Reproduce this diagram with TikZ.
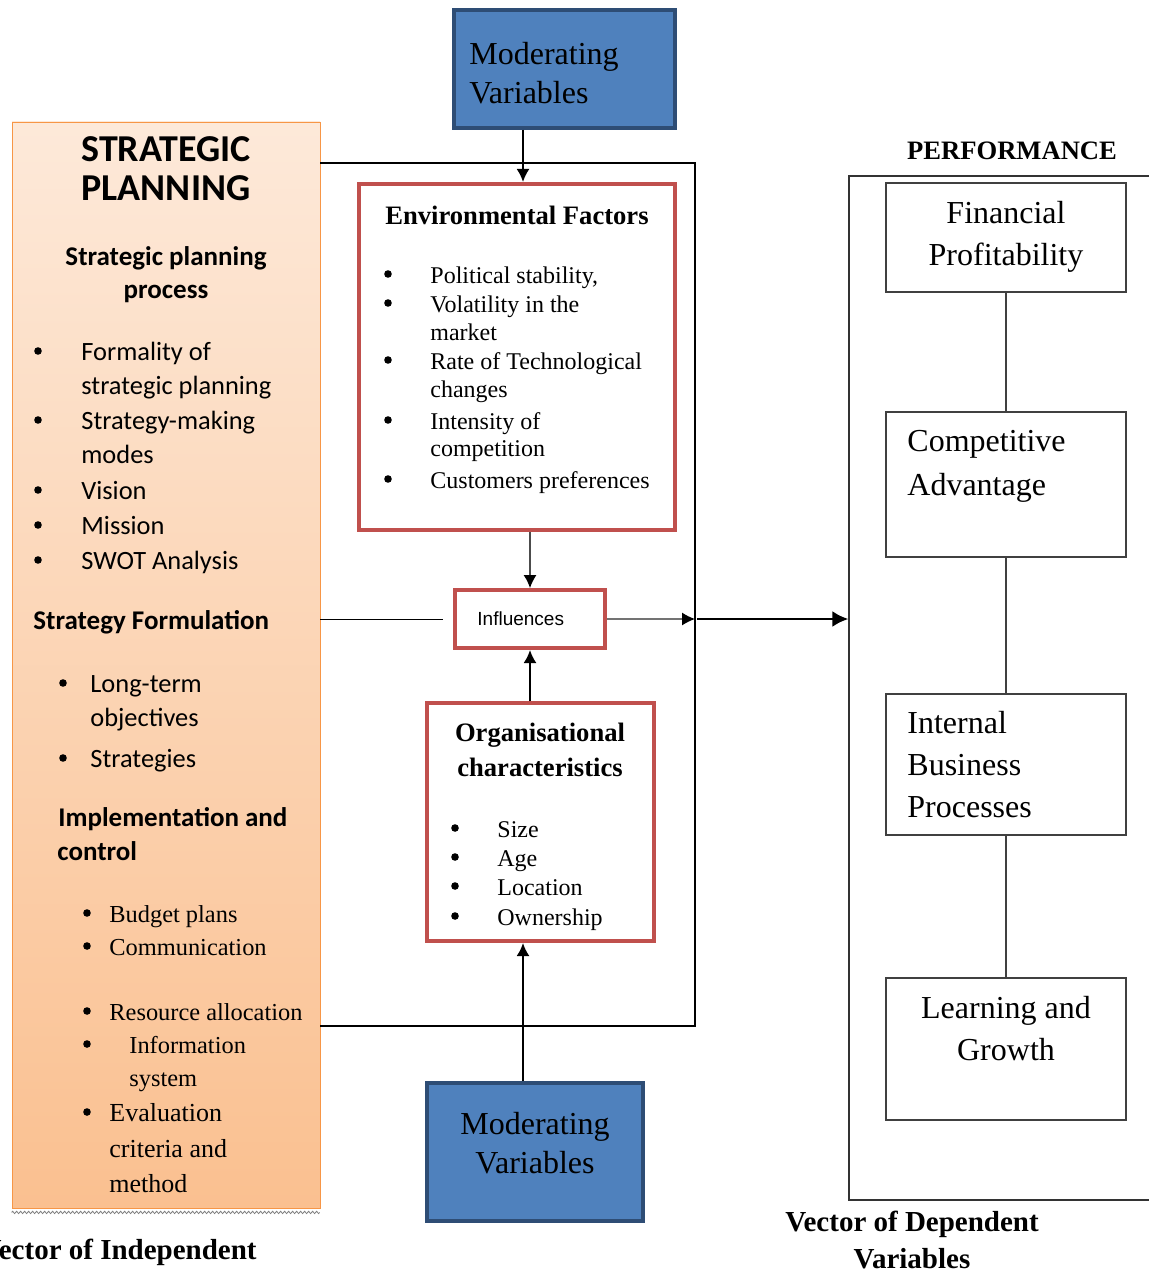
\documentclass[tikz,border=0pt]{standalone}
\usepackage{fontspec}
\setmainfont{Liberation Serif}
\setsansfont{Carlito}
\newfontfamily\inflfont{Liberation Sans}
\usetikzlibrary{arrows.meta,decorations.pathmorphing}

\definecolor{modblue}{HTML}{4F81BD}
\definecolor{modedge}{HTML}{2E4D75}
\definecolor{envred}{HTML}{C0504D}
\definecolor{planedge}{HTML}{F79646}
\definecolor{plantop}{HTML}{FDE9D9}
\definecolor{planbot}{HTML}{FAC090}

\begin{document}
\begin{tikzpicture}[x=0.5pt,y=-0.5pt,
	modbox/.style={draw=modedge,fill=modblue,line width=2pt},
	redbox/.style={draw=envred,fill=white,line width=2pt},
	perfbox/.style={draw=black!75,line width=0.6pt},
	txt/.style={inner sep=0pt,text height=0.7em,text depth=0.2em,yshift=-2.2pt},
	lft/.style={txt,anchor=west},
	bul/.style={circle,fill=black,inner sep=0pt,minimum size=3.8pt},
	plansf/.style={lft,font=\sffamily\fontsize{13.2}{15}\selectfont},
	planhd/.style={txt,font=\sffamily\bfseries\fontsize{13.5}{15}\selectfont},
	rm12/.style={lft,font=\fontsize{12}{14}\selectfont},
	rmhd/.style={txt,font=\bfseries\fontsize{13.3}{15}\selectfont},
	big/.style={txt,font=\fontsize{16}{19}\selectfont},
	arr/.style={-{Latex[length=6.5pt,width=6.5pt,color=black]}},
	frame/.style={line width=1pt}]
	\useasboundingbox (0,0) rectangle (1149,1272);

	% boxes
	\node[draw=planedge,top color=plantop,bottom color=planbot,minimum width=154pt,minimum height=543pt] (plan) at (166,665) {};
	\draw[gray,decorate,decoration={zigzag,segment length=2pt,amplitude=0.6pt}] (plan.south west) ++(0,4) -- ++(308,0);
	\node[modbox,minimum width=110.5pt,minimum height=59pt] (modtop) at (564.5,69) {};
	\node[redbox,minimum width=158pt,minimum height=173pt] (env) at (517,357) {};
	\node[redbox,minimum width=75pt,minimum height=29pt] (infl) at (530,619) {};
	\node[redbox,minimum width=113.5pt,minimum height=119pt] (org) at (540.5,822) {};
	\node[modbox,minimum width=108pt,minimum height=69pt] (modbot) at (535,1152) {};

	\node[draw=black!80,line width=0.6pt,minimum width=160.5pt,minimum height=512pt] (perf) at (1009.5,688) {};
	\node[perfbox,minimum width=120pt,minimum height=54.5pt] (fin) at (1006,237.5) {};
	\node[perfbox,minimum width=120pt,minimum height=72.5pt] (comp) at (1006,484.5) {};
	\node[perfbox,minimum width=120pt,minimum height=70.5pt] (ibp) at (1006,764.5) {};
	\node[perfbox,minimum width=120pt,minimum height=71pt] (learn) at (1006,1049) {};

	% connectors
	\draw[perfbox] (fin) -- (comp);
	\draw[perfbox] (comp) -- (ibp);
	\draw[perfbox] (ibp) -- (learn);

	\coordinate (ftop) at (695,163);
	\coordinate (fbot) at (695,1026);
	\coordinate (vin) at (523,0);
	\coordinate (fmid) at (ftop |- infl.east);
	\draw[frame] (plan.east |- ftop) -- (ftop) -- (fbot) -- (plan.east |- fbot);
	\draw[arr,line width=1pt] (modtop.south -| vin) -- (env.north -| vin);
	\draw[arr,black!70,line width=0.6pt] (env.south -| infl.north) -- (infl.north);
	\draw[arr,line width=1pt] (org.north -| infl.south) -- (infl.south);
	\draw[arr,line width=1pt] (modbot.north -| vin) -- (org.south -| vin);
	\draw[line width=0.5pt] (plan.east |- infl.west) -- ([xshift=-5pt]infl.west);
	\draw[arr,black!55,line width=0.6pt] (infl.east) -- (fmid);
	\draw[-{Latex[length=8pt,width=8pt]},line width=1.4pt] ([xshift=1pt]fmid) -- (perf.west |- fmid);

	% strategic planning text
	\node[txt,font=\sffamily\bfseries\fontsize{19}{22}\selectfont] (pt1) at (166,152) {STRATEGIC};
	\node[txt,font=\sffamily\bfseries\fontsize{19}{22}\selectfont] (pt2) at (166,191) {PLANNING};
	\node[planhd] (ph1) at (166,256) {Strategic planning};
	\node[planhd] (ph2) at (166,289) {process};
	\foreach \y [count=\i] in {351,420,490,525,560}
		\node[bul] (pb\i) at (38,\y) {};
	\foreach \y/\t [count=\i] in {351/Formality of,385/strategic planning,420/Strategy-making,454/modes,490/Vision,525/Mission,560/SWOT Analysis}
		\node[plansf] (pi\i) at (81,\y) {\t};
	\node[planhd,anchor=west] (ph3) at (33,620) {Strategy Formulation};
	\foreach \y [count=\i] in {683,758}
		\node[bul] (fb\i) at (63,\y) {};
	\foreach \y/\t [count=\i] in {683/Long-term,717/objectives,758/Strategies}
		\node[plansf] (fi\i) at (90,\y) {\t};
	\node[planhd,anchor=west] (ph4) at (58,817) {Implementation and};
	\node[planhd,anchor=west] (ph5) at (57,851) {control};
	\foreach \y [count=\i] in {913,946,1011,1044,1112}
		\node[bul] (ib\i) at (87,\y) {};
	\foreach \y/\t [count=\i] in {913/Budget plans,946/Communication,1011/Resource allocation}
		\node[rm12,font=\fontsize{12.2}{14}\selectfont] (ii\i) at (109,\y) {\t};
	\node[rm12,font=\fontsize{12.2}{14}\selectfont] (ii4) at (129,1044) {Information};
	\node[rm12,font=\fontsize{12.2}{14}\selectfont] (ii5) at (129,1077) {system};
	\foreach \y/\t [count=\i from 6] in {1112/Evaluation,1148/criteria and,1183/method}
		\node[rm12,font=\fontsize{13}{15}\selectfont] (ii\i) at (109,\y) {\t};

	% moderating texts
	\node[big,anchor=west] (mt1) at (469,55) {Moderating};
	\node[big,anchor=west] (mt2) at (469,94) {Variables};
	\node[big] (mb1) at (535,1125) {Moderating};
	\node[big] (mb2) at (535,1164) {Variables};

	% environmental factors
	\node[rmhd] (et) at (517,215) {Environmental Factors};
	\foreach \y [count=\i] in {274,303,360,420,479}
		\node[bul] (eb\i) at (388,\y) {};
	\foreach \y/\t [count=\i] in {274/{Political stability,},303/Volatility in the,331/market,360/Rate of Technological,388/changes,420/Intensity of,447/competition,479/Customers preferences}
		\node[rm12] (ei\i) at (430,\y) {\t};

	% influences
	\node[lft,font=\inflfont\fontsize{9.5}{11}\selectfont] (it) at (477,616) {Influences};

	% organisational characteristics
	\node[rmhd] (ot1) at (540,732) {Organisational};
	\node[rmhd] (ot2) at (540,767) {characteristics};
	\foreach \y/\t [count=\i] in {828/Size,857/Age,886/Location,916/Ownership}{
		\node[bul] (ob\i) at (455,\y) {};
		\node[rm12] (oi\i) at (497,\y) {\t};
	}

	% performance
	\node[txt,font=\bfseries\fontsize{13.3}{15}\selectfont] (pf) at (1012,150) {PERFORMANCE};
	\node[big] (fn1) at (1006,214) {Financial};
	\node[big] (fn2) at (1006,256) {Profitability};
	\node[big,anchor=west] (cp1) at (907,442) {Competitive};
	\node[big,anchor=west] (cp2) at (907,486) {Advantage};
	\node[big,anchor=west] (ib1t) at (907,724) {Internal};
	\node[big,anchor=west] (ib2t) at (907,766) {Business};
	\node[big,anchor=west] (ib3t) at (907,808) {Processes};
	\node[big] (lg1) at (1006,1009) {Learning and};
	\node[big] (lg2) at (1006,1051) {Growth};

	% vector labels
	\node[txt,anchor=east,font=\bfseries\fontsize{14.5}{17}\selectfont] (vi) at (257,1250) {Vector of Independent};
	\node[txt,font=\bfseries\fontsize{14.5}{17}\selectfont] (vd1) at (912,1222) {Vector of Dependent};
	\node[txt,font=\bfseries\fontsize{14.5}{17}\selectfont] (vd2) at (912,1259) {Variables};
\end{tikzpicture}
\end{document}
